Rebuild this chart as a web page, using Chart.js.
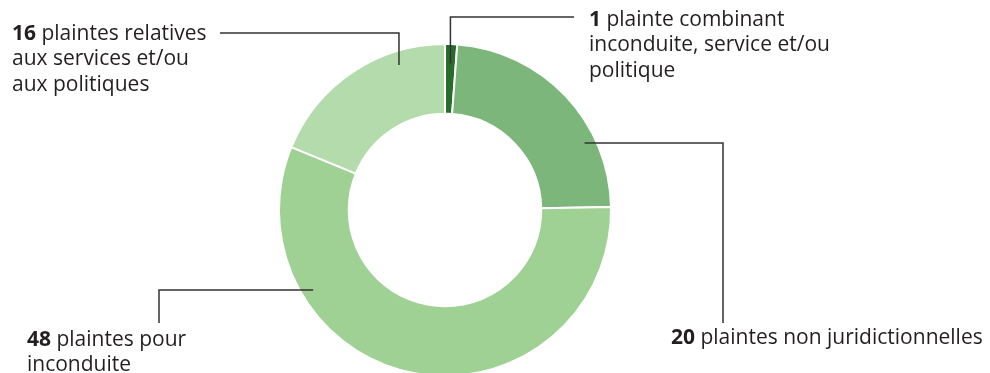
<!DOCTYPE html>
<html lang="fr">
<head>
<meta charset="utf-8">
<title>Plaintes par type</title>
<script src="https://cdn.jsdelivr.net/npm/chart.js@4.4.1/dist/chart.umd.min.js"></script>
<style>
  html, body { margin: 0; padding: 0; background: #fff; overflow: hidden; width: 990px; height: 373px; }
  #wrap { width: 990px; height: 373px; overflow: hidden; }
  canvas { display: block; }
</style>
</head>
<body>
<div id="wrap"><canvas id="complaintsChart" width="990" height="420"></canvas></div>
<script>
// === Data ===
const categories = [
  'plainte combinant inconduite, service et/ou politique',
  'plaintes non juridictionnelles',
  'plaintes pour inconduite',
  'plaintes relatives aux services et/ou aux politiques'
];
const complaintCounts = [1, 20, 48, 16];
// label text after the bold count, one entry per line
const calloutLines = [
  [' plainte combinant', 'inconduite, service et/ou', 'politique'],
  [' plaintes non juridictionnelles'],
  [' plaintes pour', 'inconduite'],
  [' plaintes relatives', 'aux services et/ou', 'aux politiques']
];
const sliceColors = ['#2b6b2d', '#7cb67a', '#9ed193', '#b3dbab'];

// === Callout layout (anchor on the slice, elbow, text block) ===
const callouts = [
  { at: 0.5,  r: 0.72, dir: 'v', endX: 574, endY: 17,  textX: 589, textY: 20 },
  { at: 0.71, r: 0.84, dir: 'h', endX: 723, endY: 323, textX: 671, textY: 338 },
  { at: 0.737, r: 0.83, dir: 'h', endX: 159, endY: 323, textX: 27,  textY: 340 },
  { at: 0.74, r: 0.8,  dir: 'v', endX: 220, endY: 33,  textX: 12,  textY: 34 }
];
const LINE_H = 25.5;
const FONT_SIZE = 21;
const FONT = '"Open Sans", "Noto Sans", sans-serif';

const calloutPlugin = {
  id: 'callouts',
  afterDraw(chart) {
    const ctx = chart.ctx;
    const arcs = chart.getDatasetMeta(0).data;
    ctx.save();
    arcs.forEach((arc, i) => {
      const c = callouts[i];
      const { x, y, startAngle, endAngle, innerRadius, outerRadius } = arc.getProps(
        ['x', 'y', 'startAngle', 'endAngle', 'innerRadius', 'outerRadius'], true);
      const a = startAngle + (endAngle - startAngle) * c.at;
      const rad = innerRadius + (outerRadius - innerRadius) * c.r;
      const ax = x + Math.cos(a) * rad;
      const ay = y + Math.sin(a) * rad;

      ctx.strokeStyle = '#333333';
      ctx.lineWidth = 1.5;
      ctx.beginPath();
      ctx.moveTo(ax, ay);
      if (c.dir === 'v') {
        ctx.lineTo(ax, c.endY);
        ctx.lineTo(c.endX, c.endY);
      } else {
        ctx.lineTo(c.endX, ay);
        ctx.lineTo(c.endX, c.endY);
      }
      ctx.stroke();

      ctx.fillStyle = '#231f20';
      ctx.textBaseline = 'middle';
      ctx.textAlign = 'left';
      calloutLines[i].forEach((line, j) => {
        const ty = c.textY + j * LINE_H;
        let tx = c.textX;
        if (j === 0) {
          ctx.font = '700 ' + FONT_SIZE + 'px ' + FONT;
          const num = String(complaintCounts[i]);
          ctx.fillText(num, tx, ty);
          tx += ctx.measureText(num).width;
        }
        ctx.font = '400 ' + FONT_SIZE + 'px ' + FONT;
        ctx.fillText(line, tx, ty);
      });
    });
    ctx.restore();
  }
};

// === Doughnut ===
const ctx = document.getElementById('complaintsChart').getContext('2d');
const complaintsChart = new Chart(ctx, {
  type: 'doughnut',
  data: {
    labels: categories,
    datasets: [{
      data: complaintCounts,
      backgroundColor: sliceColors,
      borderColor: '#ffffff',
      borderWidth: 2
    }]
  },
  options: {
    responsive: false,
    animation: false,
    events: [],
    cutout: '58%',
    layout: { padding: { left: 278, top: 43, right: 378, bottom: 43 } },
    plugins: {
      legend: { display: false },
      tooltip: { enabled: false }
    }
  },
  plugins: [calloutPlugin]
});
</script>
</body>
</html>
